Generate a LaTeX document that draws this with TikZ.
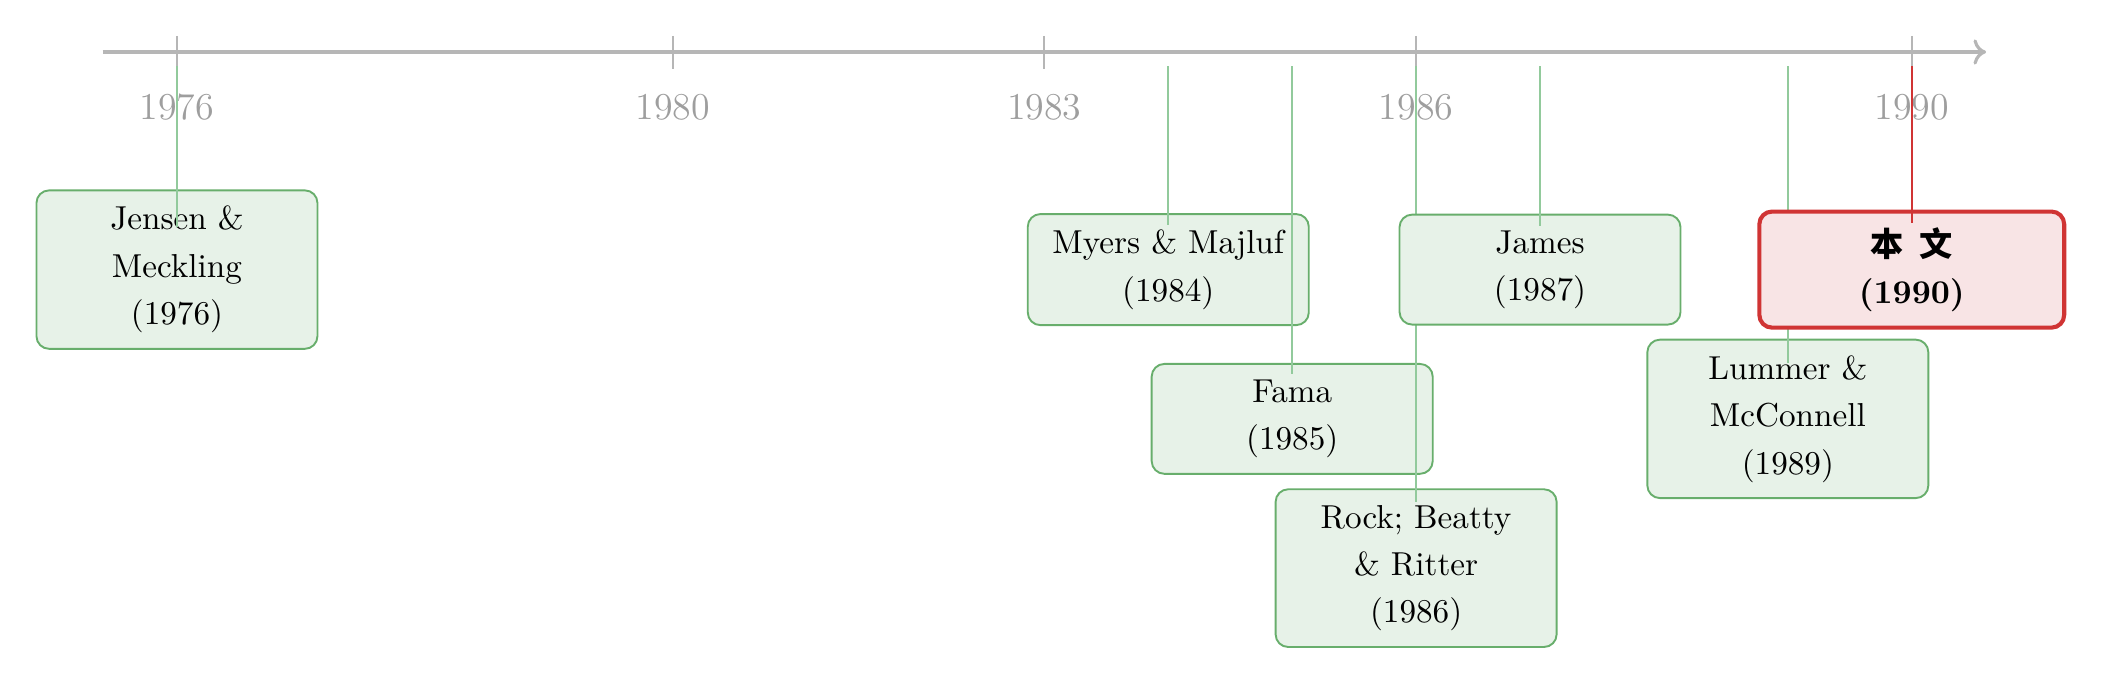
\documentclass[tikz,border=0pt]{standalone}
\usepackage{fontspec}
\newfontfamily\cjk{Noto Sans CJK SC}
\usetikzlibrary{arrows.meta, positioning}
\definecolor{axisgray}{RGB}{182,182,182}
\definecolor{labgray}{RGB}{158,158,158}
\definecolor{boxgreen}{RGB}{104,174,108}
\definecolor{fillgreen}{RGB}{231,242,232}
\definecolor{linegreen}{RGB}{146,202,156}
\definecolor{ourred}{RGB}{208,52,52}
\definecolor{fillred}{RGB}{248,228,229}
\tikzset{
  evbox/.style={draw=boxgreen, fill=fillgreen, rounded corners=4pt, line width=0.6pt,
    minimum width=3.125cm, inner xsep=4pt, inner ysep=5pt, align=center,
    font=\fontsize{10.5}{15}\selectfont},
  ourbox/.style={evbox, draw=ourred, fill=fillred, line width=1.3pt, minimum width=3.39cm},
  evline/.style={draw=linegreen, line width=0.5pt},
  ourline/.style={draw=ourred, line width=0.5pt},
  axis/.style={draw=axisgray, line width=1pt, -{To[length=4pt, width=8pt]}},
  tick/.style={draw=axisgray, line width=0.6pt},
  yearlab/.style={text=labgray, font=\large},
}

\begin{document}
\begin{tikzpicture}[x=1.378cm, y=1cm]
    \useasboundingbox (-1.968cm,0.578cm) rectangle (21.43cm,-7.05cm);
    % time axis
    \coordinate (start) at (-0.6,0);
    \coordinate (end) at (14.6,0);
    \draw[axis] (start) -- (end);
    \foreach \yr in {1976,1980,1983,1986,1990} {
      \draw[tick] (\yr-1976,0.18) -- (\yr-1976,-0.19);
      \node[yearlab] (lab\yr) at (\yr-1976,-0.61) {\yr};
    }
    \foreach \yr in {1976,...,1990} \coordinate (t\yr) at (\yr-1976,-0.16);

    % events
    \node[evbox] (jensen) at (0,-2.42) {Jensen \&\\Meckling\\(1976)};
    \draw[evline] (t1976) -- ([yshift=-0.42cm]jensen.north);
    \node[evbox] (myers) at (8,-2.42) {Myers \& Majluf\\(1984)};
    \draw[evline] (t1984) -- ([yshift=-0.135cm]myers.north);
    \node[evbox] (fama) at (9,-4.08) {Fama\\(1985)};
    \draw[evline] (t1985) -- ([yshift=-0.12cm]fama.north);
    \node[evbox] (rock) at (10,-5.74) {Rock; Beatty\\\& Ritter\\(1986)};
    \draw[evline] (t1986) -- ([yshift=-0.155cm]rock.north);
    \node[evbox] (james) at (11,-2.42) {James\\(1987)};
    \draw[evline] (t1987) -- ([yshift=-0.135cm]james.north);
    \node[evbox] (lummer) at (13,-4.08) {Lummer \&\\McConnell\\(1989)};
    \draw[evline] (t1989) -- ([yshift=-0.27cm]lummer.north);
    \node[ourbox] (ours) at (14,-2.42) {{\cjk\bfseries 本\hspace{5pt}文}\\\textbf{(1990)}};
    \draw[ourline] (t1990) -- ([yshift=-0.155cm]ours.north);
  \end{tikzpicture}
\end{document}
